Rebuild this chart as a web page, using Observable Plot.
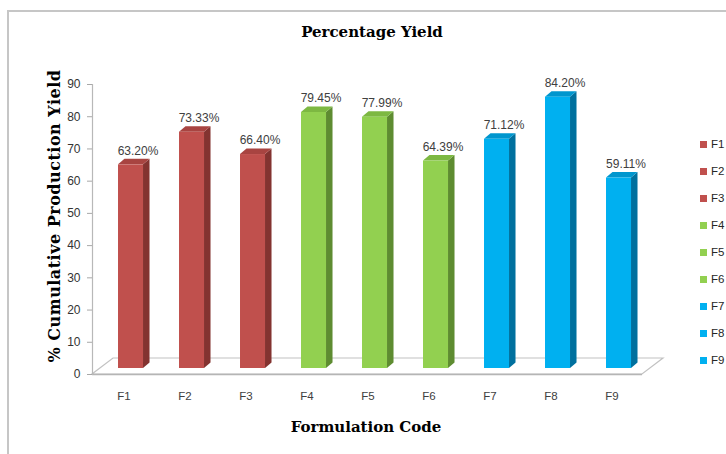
<!DOCTYPE html>
<html>
<head>
<meta charset="utf-8">
<script src="https://cdn.jsdelivr.net/npm/d3@7"></script>
<script src="https://cdn.jsdelivr.net/npm/@observablehq/plot@0.6"></script>
<style>
  body { margin: 0; background: #fff; }
  #figure { position: relative; width: 726px; height: 454px; overflow: hidden; background: #fff; }
  #figure .edge { position: absolute; left: 7px; top: 10px; right: -10px; bottom: -10px;
    border-left: 2px solid #c6c6c6; border-top: 2px solid #c6c6c6; }
  #chart { position: absolute; left: 0; top: 0; }
  .title { position: absolute; font-family: "DejaVu Serif", serif; font-weight: bold; font-size: 15px;
    color: #000; white-space: nowrap; transform: translate(-50%, -50%); }
  .title.vertical { font-size: 16px; letter-spacing: 0.5px; transform: translate(-50%, -50%) rotate(-90deg); }
  .legend-item { position: absolute; left: 700px; display: flex; align-items: center; white-space: nowrap;
    font-family: "Liberation Sans", Arial, sans-serif; font-size: 11.5px; color: #262626; transform: translateY(-50%); }
  .legend-item .swatch { width: 7px; height: 7px; margin-right: 4px; }
</style>
</head>
<body>
<div id="figure">
  <div class="edge"></div>
  <div id="chart"></div>
  <div class="title" style="left:372px; top:32px;">Percentage Yield</div>
  <div class="title vertical" style="left:54px; top:216px;">% Cumulative Production Yield</div>
  <div class="title" style="left:366px; top:427px;">Formulation Code</div>
</div>
<script>
// Formulation codes and their percentage yield
const codes = ["F1", "F2", "F3", "F4", "F5", "F6", "F7", "F8", "F9"];
const yields = [63.20, 73.33, 66.40, 79.45, 77.99, 64.39, 71.12, 84.20, 59.11];
const tones = ["red", "red", "red", "green", "green", "green", "blue", "blue", "blue"];
const yTicks = [0, 10, 20, 30, 40, 50, 60, 70, 80, 90];

// Shading for the three faces of each column
const palette = {
  red:   { front: "#C0504D", side: "#833330", top: "#A84441" },
  green: { front: "#92D050", side: "#5E8C31", top: "#7DB842" },
  blue:  { front: "#00B0F0", side: "#00709E", top: "#0096CE" }
};

const rows = codes.map((code, i) => ({ code, value: yields[i], tone: tones[i] }));

// Depth of the floor slab and of each column (pixels)
const floorDepth = [21, 16];
const colDepth = [6.5, 5.5];
const colLift = 6;

function floor(index, scales, values, dims) {
  const y0 = scales.y(0);
  const xl = dims.marginLeft, xr = dims.width - dims.marginRight;
  const [fx, fy] = floorDepth;
  const g = d3.create("svg:g");
  g.append("path")
    .attr("d", `M${xl},${y0}L${xr},${y0}L${xr + fx},${y0 - fy}L${xl + fx},${y0 - fy}Z`)
    .attr("fill", "#fff").attr("stroke", "#c2c2c2").attr("stroke-width", 1.2);
  g.append("line")
    .attr("x1", xl).attr("x2", xr).attr("y1", y0 + 0.5).attr("y2", y0 + 0.5)
    .attr("stroke", "#b5b5b5").attr("stroke-width", 1.6);
  return g.node();
}

function columns(index, scales, values, dims) {
  const bw = scales.x.bandwidth();
  const w = bw * 0.41, shift = bw * 0.115;
  const [sx, sy] = colDepth;
  const g = d3.create("svg:g");
  for (const i of index) {
    const d = rows[i];
    const c = scales.x(d.code) + bw / 2 + shift;
    const x1 = c - w / 2, x2 = c + w / 2;
    const yb = scales.y(0) - colLift, yt = scales.y(d.value) - colLift;
    const p = palette[d.tone];
    g.append("path").attr("fill", p.side)
      .attr("d", `M${x2},${yb}L${x2 + sx},${yb - sy}L${x2 + sx},${yt - sy}L${x2},${yt}Z`);
    g.append("path").attr("fill", p.top)
      .attr("d", `M${x1},${yt}L${x2},${yt}L${x2 + sx},${yt - sy}L${x1 + sx},${yt - sy}Z`);
    g.append("rect").attr("fill", p.front)
      .attr("x", x1).attr("y", yt).attr("width", w).attr("height", yb - yt);
  }
  return g.node();
}

const chart = Plot.plot({
  width: 726,
  height: 454,
  marginLeft: 92,
  marginRight: 84,
  marginTop: 84,
  marginBottom: 80,
  style: { background: "transparent", fontFamily: "'Liberation Sans', Arial, sans-serif" },
  x: { domain: codes, padding: 0, label: null },
  y: { domain: [0, 90], label: null },
  marks: [
    Plot.ruleY([0], { render: floor }),
    Plot.frame({ anchor: "left", stroke: "#b8b8b8", strokeWidth: 1.2 }),
    Plot.axisY({ ticks: yTicks, tickSize: 5, tickPadding: 7, fontSize: 12, label: null }),
    Plot.axisX({ tickSize: 0, tickPadding: 17, fontSize: 11.5, label: null }),
    Plot.barY(rows, { x: "code", y: "value", render: columns }),
    Plot.text(rows, {
      x: "code", y: "value", text: d => d.value.toFixed(2) + "%",
      dx: 14, dy: -20, fontSize: 12, fill: "#404040"
    })
  ]
});

// Axis styling: light grey tick marks, dark grey labels
const svg = d3.select(chart);
svg.selectAll("g[aria-label='y-axis tick']").attr("stroke", "#a8a8a8");
svg.selectAll("g[aria-label='y-axis tick label']").attr("fill", "#333333");
svg.selectAll("g[aria-label='x-axis tick label']").attr("fill", "#404040");
document.getElementById("chart").appendChild(chart);

// Legend: one swatch per formulation
const fig = document.getElementById("figure");
codes.forEach((code, i) => {
  const item = document.createElement("div");
  item.className = "legend-item";
  item.style.top = (144 + 27 * i) + "px";
  item.innerHTML = `<span class="swatch" style="background:${palette[tones[i]].front}"></span>${code}`;
  fig.appendChild(item);
});
</script>
</body>
</html>
